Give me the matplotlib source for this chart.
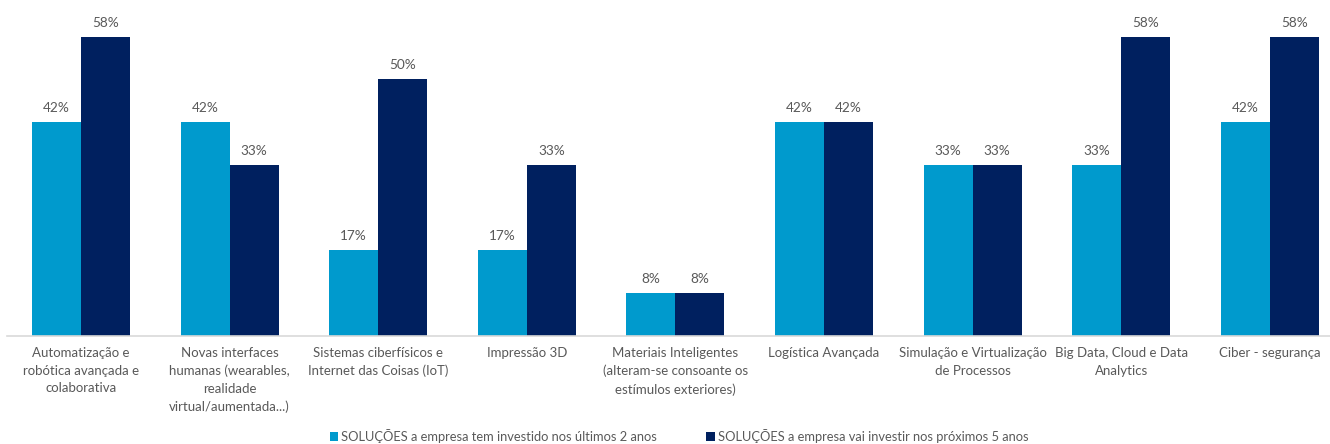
import matplotlib
matplotlib.use("Agg")
import matplotlib.pyplot as plt
import numpy as np

categories = [
    "Automatização e\nrobótica avançada e\ncolaborativa",
    "Novas interfaces\nhumanas (wearables,\nrealidade\nvirtual/aumentada...)",
    "Sistemas ciberfísicos e\nInternet das Coisas (IoT)",
    "Impressão 3D",
    "Materiais Inteligentes\n(alteram-se consoante os\nestímulos exteriores)",
    "Logística Avançada",
    "Simulação e Virtualização\nde Processos",
    "Big Data, Cloud e Data\nAnalytics",
    "Ciber - segurança",
]
invested_last2 = [41.7, 41.7, 16.7, 16.7, 8.3, 41.7, 33.3, 33.3, 41.7]
invest_next5 = [58.3, 33.3, 50.0, 33.3, 8.3, 41.7, 33.3, 58.3, 58.3]
series_names = [
    "SOLUÇÕES a empresa tem investido nos últimos 2 anos",
    "SOLUÇÕES a empresa vai investir nos próximos 5 anos",
]

LIGHT = "#009ACD"
DARK = "#00205F"
GRAY = "#595959"
FONT = "Lato"

plt.rcParams['font.family'] = [FONT, 'DejaVu Sans']

W, H = 1330, 444
fig = plt.figure(figsize=(W / 100, H / 100), dpi=100)
base_px = 336
top_px = 2.5
ax = fig.add_axes([7 / W, (H - base_px) / H, (W - 7) / W, (base_px - top_px) / H])

x = np.arange(len(categories))
bw = 0.33
b1 = ax.bar(x - bw / 2, invested_last2, bw, color=LIGHT, label=series_names[0])
b2 = ax.bar(x + bw / 2, invest_next5, bw, color=DARK, label=series_names[1])

for bars, vals in ((b1, invested_last2), (b2, invest_next5)):
    for r, v in zip(bars, vals):
        ax.annotate(f"{v:.0f}%", (r.get_x() + r.get_width() / 2, v),
                    xytext=(0, 6), textcoords="offset points",
                    ha="center", va="bottom", fontsize=9.8, color=GRAY)

ax.set_xlim(-0.498, 8.405)
ax.set_ylim(0, 65)
ax.set_yticks([])
ax.set_xticks(x)
ax.set_xticklabels(categories, fontsize=9.5, color=GRAY, linespacing=1.55)
ax.tick_params(axis="x", length=0, pad=8)
for s in ("top", "right", "left"):
    ax.spines[s].set_visible(False)
ax.spines["bottom"].set_color("#D9D9D9")
ax.spines["bottom"].set_linewidth(1.2)

fig.legend(handles=[b1, b2], labels=series_names, loc="center",
           bbox_to_anchor=(679 / W, 8 / H), ncol=2, frameon=False,
           fontsize=9.3, labelcolor=GRAY, handlelength=0.65, handleheight=0.65,
           handletextpad=0.25, columnspacing=3.8, borderaxespad=0, borderpad=0)

fig.savefig("out.png", dpi=100)
